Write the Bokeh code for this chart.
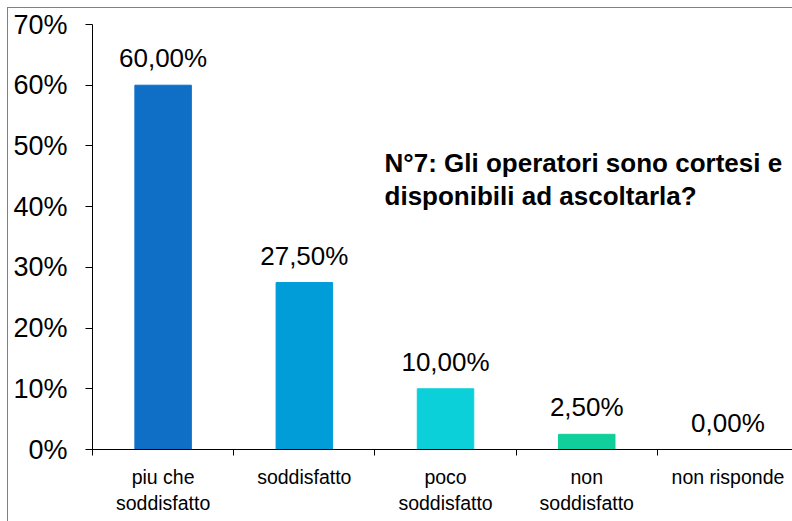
from bokeh.plotting import figure
from bokeh.models import (ColumnDataSource, Range1d, FixedTicker, LabelSet, Label,
                          PrintfTickFormatter)
from bokeh.core.properties import value
from bokeh.embed import file_html
from bokeh.resources import INLINE

# ---- data ----
categories = ["piu che\nsoddisfatto", "soddisfatto", "poco\nsoddisfatto",
              "non\nsoddisfatto", "non risponde"]
values = [60.0, 27.5, 10.0, 2.5, 0.0]
colors = ["#0F6FC6", "#009DD9", "#0BD0D9", "#10CF9B", "#7CCA62"]
y_ticks = [0, 10, 20, 30, 40, 50, 60, 70]
title_lines = ["N°7: Gli operatori sono cortesi e", "disponibili ad ascoltarla?"]

FONT = "Liberation Sans"

xs = list(range(len(categories)))
value_labels = [f"{v:.2f}".replace(".", ",") + "%" for v in values]

source = ColumnDataSource(dict(x=xs, top=values, color=colors, label=value_labels))

p = figure(width=792, height=521, output_backend="svg", toolbar_location=None,
           x_range=Range1d(-0.5, 4.457), y_range=Range1d(0, 70),
           min_border_left=92, min_border_right=0, min_border_top=24,
           min_border_bottom=72)
p.styles = {"box-shadow": "inset 7px 7px 0 0 #ffffff, inset 8px 8px 0 0 #808080",
            "background-color": "white"}
p.outline_line_color = None
p.xgrid.visible = False
p.ygrid.visible = False
p.background_fill_color = "white"
p.border_fill_color = None

p.vbar(x="x", top="top", width=0.40, color="color", source=source)

labels = LabelSet(x="x", y="top", text="label", source=source, y_offset=18,
                  text_align="center", text_baseline="alphabetic",
                  text_font=value(FONT), text_font_size="26px", text_color="black")
p.add_layout(labels)

# y axis
yax = p.yaxis[0]
yax.ticker = FixedTicker(ticks=y_ticks)
yax.formatter = PrintfTickFormatter(format="%d%%")
yax.major_label_text_font = FONT
yax.major_label_text_font_size = "27px"
yax.major_label_text_color = "black"
yax.major_tick_in = 0
yax.major_tick_out = 7
yax.minor_tick_line_color = None
yax.major_label_standoff = 18
yax.axis_line_color = "black"
yax.major_tick_line_color = "black"

# x axis
xax = p.xaxis[0]
xax.ticker = FixedTicker(ticks=xs, minor_ticks=[i - 0.5 for i in range(len(categories) + 1)])
xax.major_label_overrides = {i: c for i, c in zip(xs, categories)}
xax.major_tick_line_color = None
xax.major_tick_in = 0
xax.major_tick_out = 0
xax.minor_tick_in = 0
xax.minor_tick_out = 6
xax.minor_tick_line_color = "black"
xax.axis_line_color = "black"
xax.major_label_text_font = FONT
xax.major_label_text_font_size = "19.5px"
xax.major_label_text_color = "black"
xax.major_label_standoff = 10

# title in the plot area
for line, ypos in zip(title_lines, [47.27, 41.82]):
    p.add_layout(Label(x=1.568, y=ypos, text=line, text_font=FONT,
                       text_font_size="26px", text_font_style="bold",
                       text_color="black", text_baseline="alphabetic",
                       text_align="left"))

open("out.html", "w").write(file_html(p, INLINE))
